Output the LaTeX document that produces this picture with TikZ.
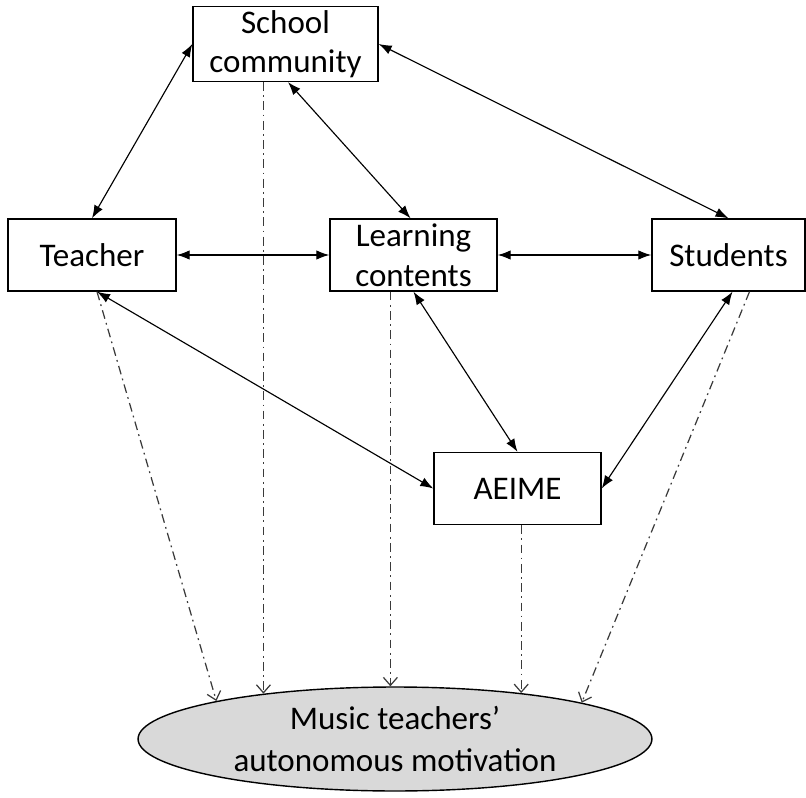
\documentclass[tikz,border=0pt]{standalone}
\usepackage{fontspec}
\setmainfont{Carlito}
\usepackage{tikz}
\usetikzlibrary{arrows.meta,calc,positioning,shapes.geometric}
\definecolor{dashgray}{HTML}{3A3A3A}
\definecolor{ovalfill}{HTML}{D9D9D9}

\begin{document}
\begin{tikzpicture}[x=0.02cm,y=-0.02cm,
  box/.style={draw,line width=.8pt,minimum height=1.44cm,inner sep=2pt,
              align=center,font=\fontsize{18.8}{22.5}\selectfont},
  oval/.style={draw,ellipse,fill=ovalfill,line width=.8pt,minimum width=10.28cm,
               minimum height=2.08cm,inner sep=0pt,align=center,
               font=\fontsize{18.8}{23.5}\selectfont},
  arr/.style={line width=.65pt,{Latex[length=2.6mm,width=1.9mm]}-{Latex[length=2.6mm,width=1.9mm]}},
  dasharr/.style={dashgray,line width=.7pt,dash pattern=on 5pt off 2.5pt on 1pt off 2.5pt,
                  -{Straight Barb[length=1.6mm,width=2.8mm]}}]
  \useasboundingbox (0,0) rectangle (806,798);
  \node[box,minimum width=3.7cm] (school) at (285.5,44) {School\\community};
  \node[box,minimum width=3.36cm] (teacher) at (92,255) {Teacher};
  \node[box,minimum width=3.34cm] (learning) at (413.5,255) {Learning\\contents};
  \node[box,minimum width=3.06cm] (students) at (728.5,255) {Students};
  \node[box,minimum width=3.34cm] (aeime) at (517.5,488.5) {AEIME};
  \node[oval] (music) at (395,739) {Music teachers’\\autonomous motivation};
  % relations between the boxes
  \draw[arr] (school.west) -- (teacher.north);
  \draw[arr] ($(school.south)+(2.5,0)$) -- ($(learning.north)+(-3,0)$);
  \draw[arr] (school.east) -- (students.north);
  \draw[arr] (teacher.east) -- (learning.west);
  \draw[arr] (learning.east) -- (students.west);
  \draw[arr] ($(teacher.south)+(5,0)$) -- (aeime.west);
  \draw[arr] (learning.south) -- (aeime.north);
  \draw[arr] ($(students.south)+(4,0)$) -- (aeime.east);
  % influence on motivation
  \draw[dasharr] ($(teacher.south)+(5,0)$) -- (music.168.4);
  \draw[dasharr] (music.161.7 |- school.south) -- (music.161.7);
  \draw[dasharr] (music.95.5 |- learning.south) -- (music.95.5);
  \draw[dasharr] (music.20.8 |- aeime.south) -- (music.20.8);
  \draw[dasharr] ($(students.south)+(21,0)$) -- (music.11.4);
\end{tikzpicture}
\end{document}
